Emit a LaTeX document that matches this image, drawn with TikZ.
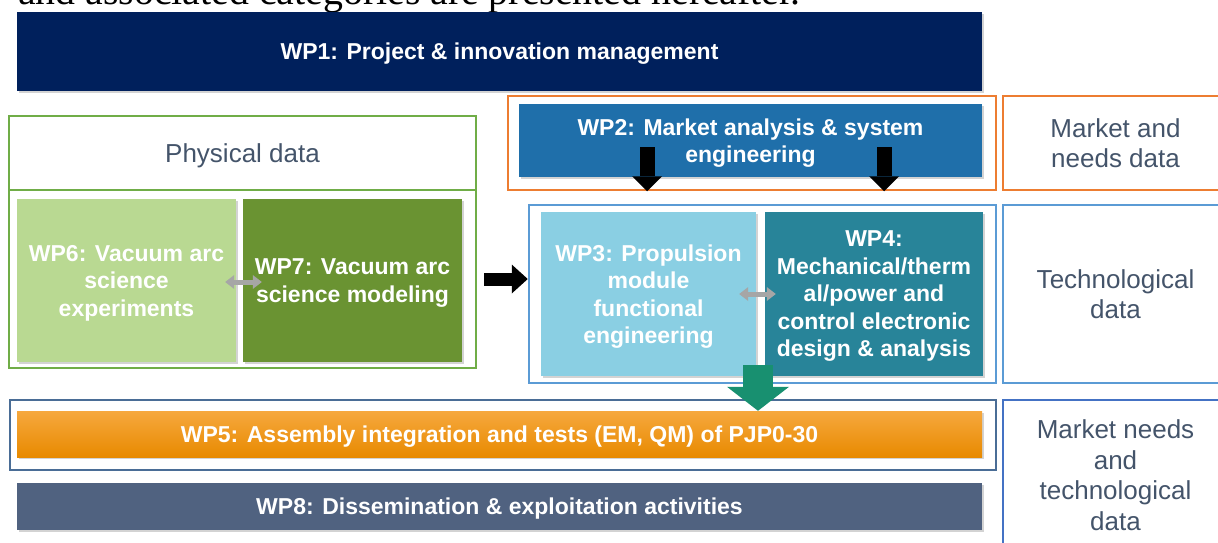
\documentclass[tikz,border=0pt]{standalone}
\usepackage{fontspec}
\setmainfont{Liberation Sans}
\newfontfamily\bodyfont{Liberation Serif}
\usetikzlibrary{arrows.meta,shadows}

\definecolor{navy}{RGB}{0,32,92}
\definecolor{mkblue}{RGB}{31,111,170}
\definecolor{mkorange}{RGB}{237,125,49}
\definecolor{physgreen}{RGB}{112,173,71}
\definecolor{expgreen}{RGB}{185,217,146}
\definecolor{modgreen}{RGB}{106,147,50}
\definecolor{techblue}{RGB}{91,155,213}
\definecolor{propblue}{RGB}{138,207,227}
\definecolor{mechteal}{RGB}{40,132,153}
\definecolor{aitblue}{RGB}{74,109,150}
\definecolor{bothblue}{RGB}{68,114,196}
\definecolor{dissslate}{RGB}{80,98,128}
\definecolor{labeltext}{RGB}{68,84,106}
\definecolor{downgreen}{RGB}{24,144,112}
\definecolor{aittop}{RGB}{246,168,62}
\definecolor{aitmid}{RGB}{250,162,20}
\definecolor{aitbot}{RGB}{232,138,0}

\begin{document}
\begin{tikzpicture}
[every node/.style={inner sep=0pt},
 wp/.style={rectangle, text=white, align=center, text depth=-2pt, font=\bfseries\fontsize{23}{27.5}\selectfont,
   drop shadow={shadow xshift=2pt, shadow yshift=-2pt, opacity=0.35}},
 wpframe/.style={rectangle, line width=2.5pt},
 datalabel/.style={rectangle, line width=2.5pt, align=center, text=labeltext, font=\fontsize{26}{30.5}\selectfont},
 blockarrow/.style={line width=15pt, black, -{Triangle[width=30pt, length=15pt, line width=0pt]}},
 swaparrow/.style={line width=5pt, black!35, {Triangle[width=14pt, length=9pt, line width=0pt]}-{Triangle[width=14pt, length=9pt, line width=0pt]}}]
\useasboundingbox (0pt, 0pt) rectangle (1218pt, -542pt);
\clip (0pt, 0pt) rectangle (1218pt, -542pt);
\node (intro) [anchor=base west, font=\bodyfont\fontsize{39.8}{40}\selectfont] at (18pt, -4pt) {and associated categories are presented hereafter.};
% frames and data categories
\node (mkframe) [wpframe, draw=mkorange, minimum width=488pt, minimum height=94pt] at (752.0pt, -143.0pt) {};
\node (techframe) [wpframe, draw=techblue, minimum width=467pt, minimum height=178pt] at (762.5pt, -294.0pt) {};
\node (aitframe) [wpframe, draw=aitblue, minimum width=986pt, minimum height=70pt] at (503.0pt, -435.0pt) {};
\node (physhead) [datalabel, draw=physgreen, text depth=-3pt, minimum width=467pt, minimum height=74pt] at (242.5pt, -153.0pt) {Physical data};
\node (physframe) [wpframe, draw=physgreen, minimum width=467pt, minimum height=178pt] at (242.5pt, -279.0pt) {};
\node (mklabel) [datalabel, draw=mkorange, minimum width=225pt, minimum height=94pt] at (1115.5pt, -143.0pt) {Market and\\needs data};
\node (techlabel) [datalabel, draw=techblue, minimum width=225pt, minimum height=178pt] at (1115.5pt, -294.0pt) {Technological\\data};
\node (bothlabel) [datalabel, draw=bothblue, minimum width=225pt, minimum height=150pt] at (1115.5pt, -475.0pt) {Market needs\\and\\technological\\data};
% work packages
\node (wp1) [wp, fill=navy, minimum width=965pt, minimum height=79pt] at (499.5pt, -51.5pt) {WP1: Project \& innovation management};
\node (wp2) [wp, fill=mkblue, minimum width=463pt, minimum height=73pt] at (750.5pt, -140.5pt) {WP2: Market analysis \& system\\engineering};
\node (wp6) [wp, fill=expgreen, minimum width=219pt, minimum height=163pt] at (126.5pt, -280.5pt) {WP6: Vacuum arc\\science\\experiments};
\node (wp7) [wp, fill=modgreen, minimum width=219pt, minimum height=163pt] at (352.5pt, -280.5pt) {WP7: Vacuum arc\\science modeling};
\node (wp3) [wp, fill=propblue, minimum width=215pt, minimum height=164pt] at (648.5pt, -294.0pt) {WP3: Propulsion\\module\\functional\\engineering};
\node (wp4) [wp, fill=mechteal, minimum width=218pt, minimum height=164pt] at (874.0pt, -294.0pt) {WP4:\\Mechanical/therm\\al/power and\\control electronic\\design \& analysis};
\node (wp5) [wp, top color=aittop, middle color=aitmid, bottom color=aitbot, minimum width=965pt, minimum height=46pt] at (499.5pt, -434.0pt) {WP5: Assembly integration and tests (EM, QM) of PJP0-30};
\node (wp8) [wp, fill=dissslate, minimum width=965pt, minimum height=47pt] at (499.5pt, -506.5pt) {WP8: Dissemination \& exploitation activities};
% arrows
\coordinate (a1) at (647pt, -147pt);
\coordinate (a2) at (884pt, -147pt);
\coordinate (a4) at (758pt, -365pt);
\draw [blockarrow] (a1) -- (a1 |- mkframe.south);
\draw [blockarrow] (a2) -- (a2 |- mkframe.south);
\draw [line width=13pt, black, -{Triangle[width=29pt, length=16pt, line width=0pt]}] ([xshift=7pt]physframe.east) -- (physframe.east -| techframe.west);
\draw [swaparrow] ([xshift=-11pt, yshift=-1.5pt]wp6.east) -- ([xshift=19pt, yshift=-1.5pt]wp7.west);
\draw [swaparrow] ([xshift=-17pt]wp3.east) -- ([xshift=11pt]wp4.west);
\draw [line width=30pt, downgreen, -{Triangle[width=62pt, length=24pt, line width=0pt]}] (a4) -- (a4 |- wp5.north);
\end{tikzpicture}
\end{document}
